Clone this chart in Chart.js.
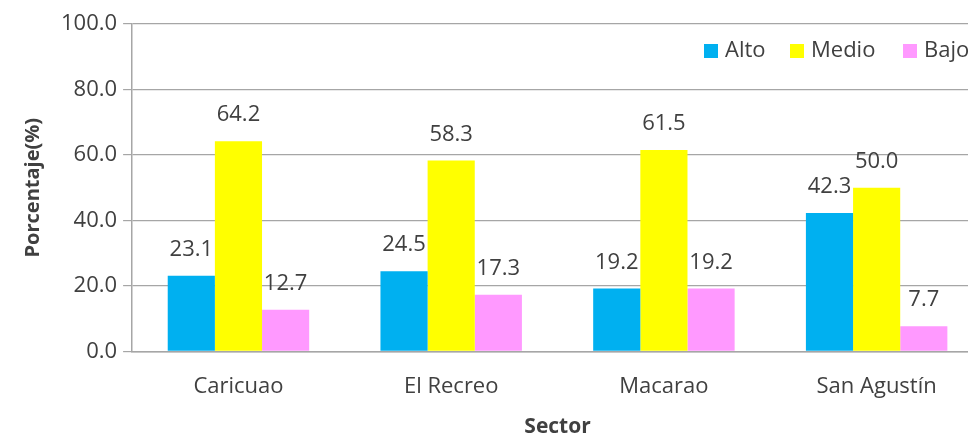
<!DOCTYPE html>
<html>
<head>
<meta charset="utf-8">
<script src="https://cdn.jsdelivr.net/npm/chart.js@4.4.1/dist/chart.umd.min.js"></script>
<style>
    html, body { margin: 0; padding: 0; background: #fff; overflow: hidden; }
    #wrap { width: 985px; height: 434px; }
</style>
</head>
<body>
<div id="wrap"><canvas id="grafico"></canvas></div>
<script>
// Datos por sector (%)
const sectores = ['Caricuao', 'El Recreo', 'Macarao', 'San Agustín'];
const alto = [23.1, 24.5, 19.2, 42.3];
const medio = [64.2, 58.3, 61.5, 50.0];
const bajo = [12.7, 17.3, 19.2, 7.7];
const ticksY = [0, 20, 40, 60, 80, 100];

const fuente = '"Open Sans", sans-serif';
const colorTexto = '#404040';

// Etiquetas de valor encima de cada barra
const etiquetasValor = {
    id: 'etiquetasValor',
    afterDatasetsDraw(chart) {
        const ctx = chart.ctx;
        ctx.save();
        ctx.font = '22px ' + fuente;
        ctx.fillStyle = colorTexto;
        ctx.textAlign = 'center';
        ctx.textBaseline = 'middle';
        chart.data.datasets.forEach((ds, i) => {
            chart.getDatasetMeta(i).data.forEach((bar, j) => {
                ctx.fillText(ds.data[j].toFixed(1), bar.x, bar.y - 26);
            });
        });
        ctx.restore();
    }
};

// Leyenda dentro del área del gráfico, arriba a la derecha
const leyenda = {
    id: 'leyenda',
    afterDraw(chart) {
        const ctx = chart.ctx;
        const pos = [704, 790, 903];
        ctx.save();
        ctx.font = '22px ' + fuente;
        ctx.textBaseline = 'middle';
        chart.data.datasets.forEach((ds, i) => {
            ctx.fillStyle = ds.backgroundColor;
            ctx.fillRect(pos[i], 44, 14, 14);
            ctx.fillStyle = colorTexto;
            ctx.fillText(ds.label, pos[i] + 21, 51);
        });
        ctx.restore();
    }
};

new Chart(document.getElementById('grafico'), {
    type: 'bar',
    data: {
        labels: sectores,
        datasets: [
            { label: 'Alto', data: alto, backgroundColor: '#00B0F0' },
            { label: 'Medio', data: medio, backgroundColor: '#FFFF00' },
            { label: 'Bajo', data: bajo, backgroundColor: '#FF99FF' }
        ]
    },
    options: {
        responsive: true,
        maintainAspectRatio: false,
        animation: false,
        datasets: { bar: { categoryPercentage: 0.665, barPercentage: 1.0 } },
        layout: { padding: { top: 24, right: 2, left: 17, bottom: -6 } },
        plugins: { legend: { display: false }, tooltip: { enabled: false } },
        scales: {
            x: {
                grid: { display: false },
                border: { color: '#a6a6a6', width: 1.5 },
                ticks: { color: colorTexto, font: { family: fuente, size: 22 }, padding: 14 },
                title: { display: true, text: 'Sector', color: colorTexto, font: { family: fuente, size: 21, weight: 'bold' }, padding: { top: 1, bottom: 0 } }
            },
            y: {
                min: 0,
                max: 100,
                afterBuildTicks(axis) { axis.ticks = ticksY.map(v => ({ value: v })); },
                grid: { color: '#a6a6a6', lineWidth: 1.2, tickLength: 9 },
                border: { color: '#a6a6a6', width: 1.5 },
                ticks: {
                    color: colorTexto,
                    font: { family: fuente, size: 22 },
                    padding: 6,
                    callback: v => Number(v).toFixed(1)
                },
                title: { display: true, text: 'Porcentaje(%)', color: colorTexto, font: { family: fuente, size: 20, weight: 'bold' }, padding: { bottom: 10 } }
            }
        }
    },
    plugins: [etiquetasValor, leyenda]
});
</script>
</body>
</html>
